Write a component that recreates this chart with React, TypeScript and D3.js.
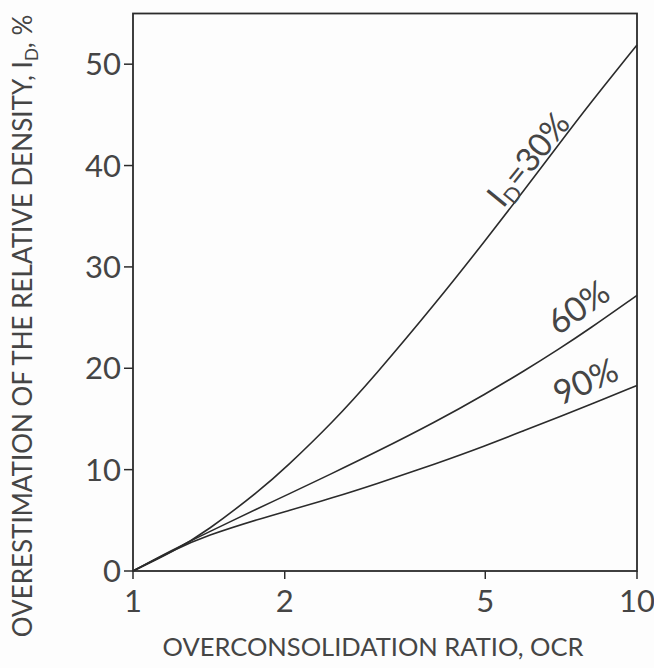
import React from "react";
import * as d3 from "d3";

const ocr = [1, 1.2, 1.4, 1.8, 2, 2.5, 3, 4, 5, 6, 7, 8, 10];
const id30 = [0, 1.9, 3.9, 8.1, 10.1, 14.75, 19.1, 26.5, 32.6, 37.7, 42.1, 45.9, 51.9];
const id60 = [0, 2.1, 3.75, 6.35, 7.4, 9.7, 11.6, 14.75, 17.45, 19.8, 21.9, 23.8, 27.2];
const id90 = [0, 2.05, 3.5, 5.2, 5.85, 7.25, 8.5, 10.6, 12.35, 13.9, 15.2, 16.35, 18.3];
const xTicks = [1, 2, 5, 10];
const yTicks = [0, 10, 20, 30, 40, 50];

export default function App() {
  const W = 654, H = 668;
  const x = d3.scaleLog().domain([1, 10]).range([133, 637]);
  const y = d3.scaleLinear().domain([0, 55]).range([571, 13.5]);
  const line = d3
    .line<[number, number]>()
    .x((d) => x(d[0]))
    .y((d) => y(d[1]))
    .curve(d3.curveBasis);
  const series = [id30, id60, id90];
  const ink = "#2b2b2b";
  const txt = "#454545";
  const font = "Lato, 'DejaVu Sans', sans-serif";
  return (
    <svg
      width={W}
      height={H}
      style={{ position: "absolute", left: 0, top: 0, background: "#fdfdfd" }}
    >
      <rect x={0} y={0} width={W} height={H} fill="#fdfdfd" />
      <rect
        x={x(1)}
        y={y(55)}
        width={x(10) - x(1)}
        height={y(0) - y(55)}
        fill="none"
        stroke={ink}
        strokeWidth={1.8}
      />
      {yTicks.map((t) => (
        <g key={"y" + t}>
          <line x1={x(1) - 9} x2={x(1)} y1={y(t)} y2={y(t)} stroke={ink} strokeWidth={1.5} />
          <text
            x={x(1) - 12}
            y={y(t)}
            dy="0.36em"
            textAnchor="end"
            fontSize={31}
            fontFamily={font}
            fill={txt}
          >
            {t}
          </text>
        </g>
      ))}
      {xTicks.map((t) => (
        <g key={"x" + t}>
          <line x1={x(t)} x2={x(t)} y1={y(0)} y2={y(0) + 8} stroke={ink} strokeWidth={1.5} />
          <text
            x={x(t)}
            y={y(0) + 41}
            textAnchor="middle"
            fontSize={31}
            fontFamily={font}
            fill={txt}
          >
            {t}
          </text>
        </g>
      ))}
      {series.map((s, i) => (
        <path
          key={i}
          d={line(ocr.map((o, j) => [o, s[j]] as [number, number])) || ""}
          fill="none"
          stroke={ink}
          strokeWidth={1.6}
        />
      ))}
      <text
        transform="translate(503,209) rotate(-51)"
        fontSize={33}
        fontFamily={font}
        fill={txt}
      >
        I<tspan fontSize={21} dy={6}>D</tspan>
        <tspan dy={-6}>=30%</tspan>
      </text>
      <text
        transform="translate(558,336) rotate(-35)"
        fontSize={34}
        fontFamily={font}
        fill={txt}
      >
        60%
      </text>
      <text
        transform="translate(560,406) rotate(-24)"
        fontSize={34}
        fontFamily={font}
        fill={txt}
      >
        90%
      </text>
      <text
        x={(x(1) + x(10)) / 2 - 12}
        y={656}
        textAnchor="middle"
        fontSize={25.5}
        fontFamily={font}
        fill={txt}
      >
        OVERCONSOLIDATION RATIO, OCR
      </text>
      <text
        transform="translate(32,326) rotate(-90)"
        textAnchor="middle"
        fontSize={26}
        fontFamily={font}
        fill={txt}
      >
        OVERESTIMATION OF THE RELATIVE DENSITY, I
        <tspan fontSize={17} dy={6}>D</tspan>
        <tspan dy={-6}>, %</tspan>
      </text>
    </svg>
  );
}
